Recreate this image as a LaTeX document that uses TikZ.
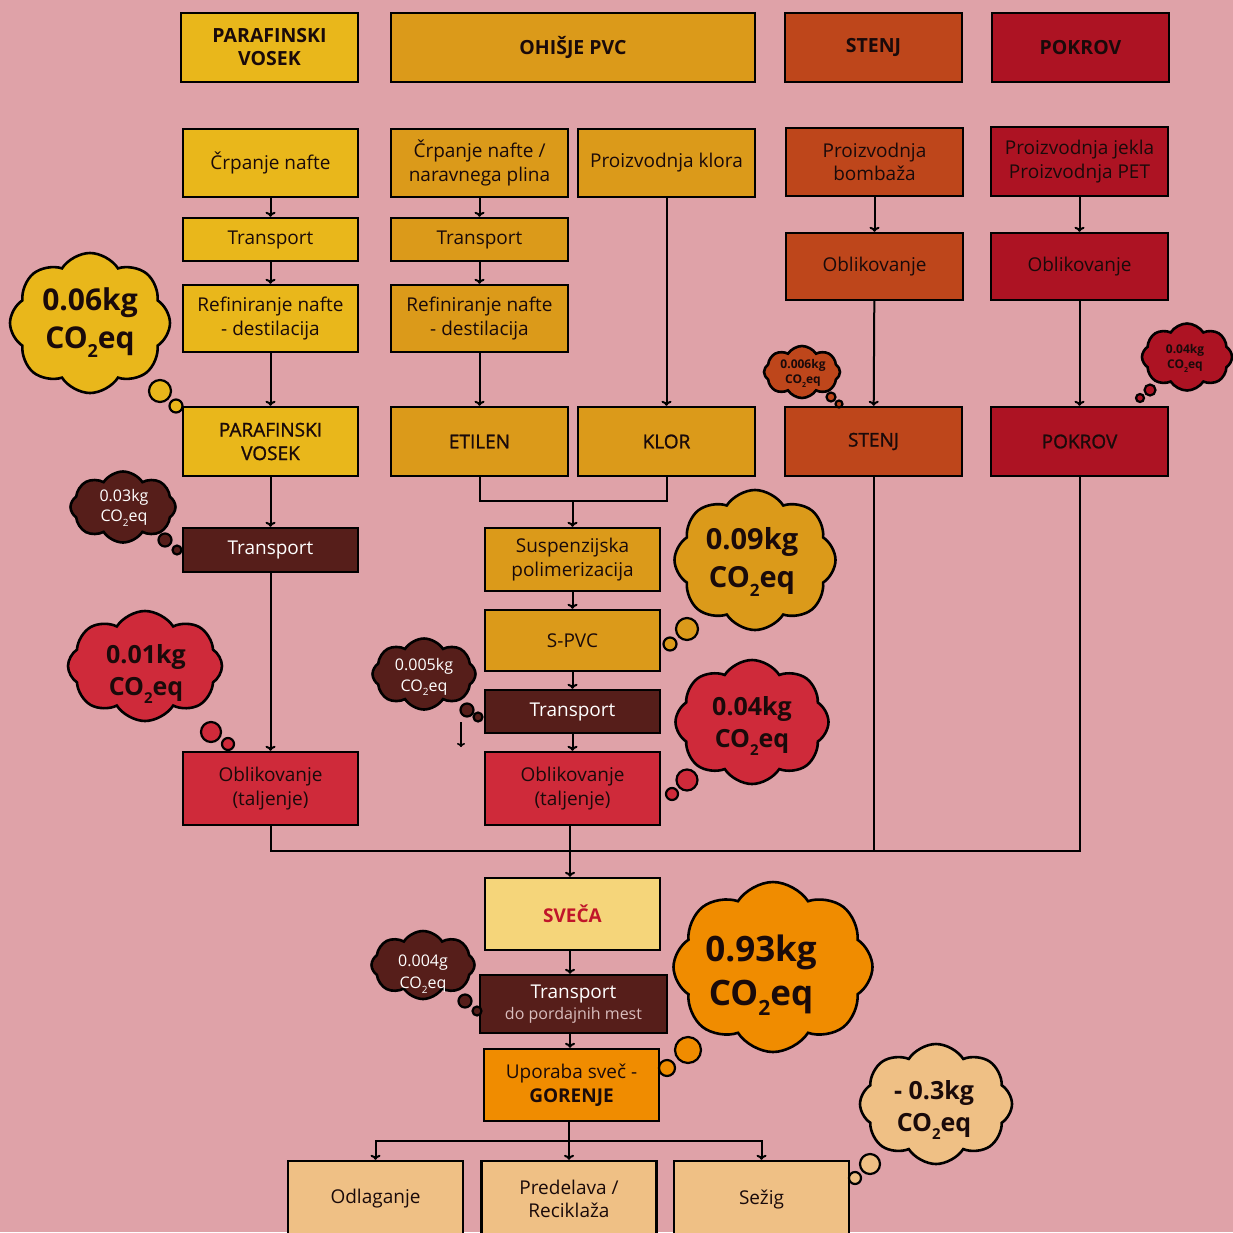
\documentclass[tikz,border=0pt]{standalone}
\usepackage{fontspec}
\setmainfont{Open Sans}
\newfontfamily\semib[FakeBold=1.2]{Open Sans}
\usetikzlibrary{arrows.meta,shapes.symbols}
\definecolor{bg}{HTML}{DFA2A8}
\definecolor{cPar}{HTML}{E9B71B}
\definecolor{cPvc}{HTML}{DB9A1A}
\definecolor{cSte}{HTML}{BE461B}
\definecolor{cPok}{HTML}{AD1323}
\definecolor{cBrn}{HTML}{561E1A}
\definecolor{cRed}{HTML}{CF2A3A}
\definecolor{cSve}{HTML}{F5D57A}
\definecolor{cGor}{HTML}{F08C00}
\definecolor{cEnd}{HTML}{EFC085}
\definecolor{cSveT}{HTML}{C0152A}
\definecolor{cSub}{HTML}{D9BDBD}
\definecolor{cTxt}{HTML}{1A0A0A}
\newcommand{\COeq}[1]{CO\raisebox{-0.3em}{\fontsize{#1}{#1}\selectfont 2}eq}
\tikzset{
  box/.style={draw=black, line width=2.4pt, align=center, inner sep=0pt, text=cTxt,
    font=\fontsize{19}{23.5}\selectfont},
  sbox/.style={box, font=\fontsize{19}{23.5}\selectfont\semib},
  hdr/.style={box, minimum height=69, font=\fontsize{19.5}{23}\selectfont\bfseries},
  wtext/.style={text=white},
  arr/.style={line width=2pt, -{To[length=5pt,width=10pt]}},
  ln/.style={line width=2pt},
  cloudc/.style={cloud, cloud puffs=8, cloud puff arc=115, cloud ignores aspect,
    draw=black, line width=2.6pt, inner sep=0pt},
  ctext/.style={align=center, inner sep=0pt, text=cTxt},
  tail/.style={circle, draw=black, line width=2.2pt, inner sep=0pt},
}
\begin{document}
\begin{tikzpicture}[x=1pt,y=-1pt]
\useasboundingbox (0,0) rectangle (1233,1232);
\fill[bg] (0,0) rectangle (1233,1232);

% headers
\node[hdr, fill=cPar, minimum width=177] (h1) at (269.5,47.5) {PARAFINSKI\\VOSEK};
\node[hdr, fill=cPvc, minimum width=364] (h2) at (573,47.5) {OHIŠJE PVC};
\node[hdr, fill=cSte, minimum width=177] (h3) at (873.5,47.5) {STENJ};
\node[hdr, fill=cPok, minimum width=177] (h4) at (1080.5,47.5) {POKROV};

% column 1
\node[box, fill=cPar, minimum width=175, minimum height=68] (a1) at (270.5,163) {Črpanje nafte};
\node[box, fill=cPar, minimum width=175, minimum height=43] (a2) at (270.5,239.5) {Transport};
\node[box, fill=cPar, minimum width=175, minimum height=67] (a3) at (270.5,318.5) {Refiniranje nafte\\- destilacija};
\node[sbox, fill=cPar, minimum width=175, minimum height=69] (a4) at (270.5,441.5) {PARAFINSKI\\VOSEK};
\node[box, fill=cBrn, wtext, minimum width=175, minimum height=44] (a5) at (270.5,550) {Transport};
\node[box, fill=cRed, minimum width=175, minimum height=73] (a6) at (270.5,788.5) {Oblikovanje\\(taljenje)};

% column 2a / 2b
\node[box, fill=cPvc, minimum width=177, minimum height=68] (b1) at (479.5,163) {Črpanje nafte /\\naravnega plina};
\node[box, fill=cPvc, minimum width=177, minimum height=43] (b2) at (479.5,239.5) {Transport};
\node[box, fill=cPvc, minimum width=177, minimum height=67] (b3) at (479.5,318.5) {Refiniranje nafte\\- destilacija};
\node[sbox, fill=cPvc, minimum width=177, minimum height=69] (b4) at (479.5,441.5) {ETILEN};
\node[box, fill=cPvc, minimum width=177, minimum height=68] (c1) at (666.5,163) {Proizvodnja klora};
\node[sbox, fill=cPvc, minimum width=177, minimum height=69] (c4) at (666.5,441.5) {KLOR};

% centre column
\node[box, fill=cPvc, minimum width=175, minimum height=63] (d1) at (572.5,559.5) {Suspenzijska\\polimerizacija};
\node[box, fill=cPvc, minimum width=175, minimum height=61] (d2) at (572.5,640.5) {S-PVC};
\node[box, fill=cBrn, wtext, minimum width=175, minimum height=43] (d3) at (572.5,711.5) {Transport};
\node[box, fill=cRed, minimum width=175, minimum height=73] (d4) at (572.5,788.5) {Oblikovanje\\(taljenje)};

% column 3
\node[box, fill=cSte, minimum width=177, minimum height=68] (e1) at (874.5,162) {Proizvodnja\\bombaža};
\node[box, fill=cSte, minimum width=177, minimum height=67] (e2) at (874.5,266.5) {Oblikovanje};
\node[sbox, fill=cSte, minimum width=177, minimum height=69] (e3) at (873.5,441.5) {STENJ};

% column 4
\node[box, fill=cPok, minimum width=177, minimum height=69] (f1) at (1079.5,161.5) {Proizvodnja jekla\\Proizvodnja PET};
\node[box, fill=cPok, minimum width=177, minimum height=67] (f2) at (1079.5,266.5) {Oblikovanje};
\node[sbox, fill=cPok, minimum width=177, minimum height=69] (f3) at (1079.5,441.5) {POKROV};

% bottom
\node[box, fill=cSve, text=cSveT, font=\fontsize{19}{22}\selectfont\bfseries, minimum width=175, minimum height=72] (g1) at (572.5,914) {SVEČA};
\node[box, fill=cBrn, wtext, minimum width=187, minimum height=58] (g2) at (573.5,1004) {Transport\\[-3pt]{\fontsize{16}{18}\selectfont\color{cSub}do pordajnih mest}};
\node[box, fill=cGor, minimum width=175, minimum height=72] (g3) at (571.5,1085) {Uporaba sveč -\\\textbf{GORENJE}};
\node[box, fill=cEnd, minimum width=175, minimum height=76] (i1) at (375.5,1199) {Odlaganje};
\node[box, fill=cEnd, minimum width=175, minimum height=76] (i2) at (569,1199) {Predelava /\\Reciklaža};
\node[box, fill=cEnd, minimum width=175, minimum height=76] (i3) at (761.5,1199) {Sežig};

% connectors
\draw[arr] (a1) -- (a2);
\draw[arr] (a2) -- (a3);
\draw[arr] (a3) -- (a4);
\draw[arr] (a4) -- (a5);
\draw[arr] (a5) -- (a6);
\draw[arr] (b1) -- (b2);
\draw[arr] (b2) -- (b3);
\draw[arr] (b3) -- (b4);
\draw[arr] (c1) -- (c4);
\coordinate (m1) at (572.5,501);
\draw[ln] (b4.south) |- (m1) -| (c4.south);
\draw[arr] (m1) -- (d1.north);
\draw[arr] (d1) -- (d2);
\draw[arr] (d2) -- (d3);
\draw[arr] (d3) -- (d4);
\draw[arr] (e1) -- (e2);
\draw[arr] (e2) -- (e3);
\draw[arr] (f1) -- (f2);
\draw[arr] (f2) -- (f3);
\coordinate (m2) at (570,851);
\draw[ln] (a6.south) |- (m2);
\draw[ln] (d4.south -| m2) -- (m2);
\draw[ln] (e3.south) |- (m2);
\draw[ln] (f3.south) |- (m2);
\draw[arr] (m2) -- (g1.north -| m2);
\draw[arr] (g1.south -| m2) -- (g2.north -| m2);
\draw[arr] (g2.south -| m2) -- (g3.north -| m2);
\coordinate (m3) at (569,1141);
\draw[ln] (g3.south -| m3) -- (m3);
\draw[arr] (m3) -| (i1.north);
\draw[arr] (m3) -- (i2.north);
\draw[arr] (m3) -| (i3.north);
\coordinate (s1) at (461,722);
\coordinate (s2) at (461,747);
\draw[line width=1.6pt, -{To[length=4pt,width=8pt]}] (s1) -- (s2);

% clouds
\node[cloudc, fill=cPar, minimum width=160, minimum height=140] (k1) at (90,323) {};
\node[ctext, font=\fontsize{30}{38}\selectfont\bfseries] (k1t) at (90,323) {0.06kg\\\COeq{18}};
\node[tail, fill=cPar, minimum width=18, minimum height=22] (k1a) at (160,391) {};
\node[tail, fill=cPar, minimum size=13] (k1b) at (176,406) {};

\node[cloudc, fill=cSte, minimum width=76, minimum height=52] (k2) at (802,372) {};
\node[ctext, font=\fontsize{12}{15.5}\selectfont\bfseries] (k2t) at (803,373) {0.006kg\\\COeq{7}};
\node[tail, fill=cSte, minimum size=9] (k2a) at (831,397) {};
\node[tail, fill=cSte, minimum size=7] (k2b) at (839,404) {};

\node[cloudc, fill=cPok, minimum width=90, minimum height=67] (k3) at (1187,357) {};
\node[ctext, font=\fontsize{12}{15.5}\selectfont\bfseries] (k3t) at (1185,358) {0.04kg\\\COeq{7}};
\node[tail, fill=cPok, minimum size=11] (k3a) at (1150,390) {};
\node[tail, fill=cPok, minimum size=8] (k3b) at (1140,398) {};

\node[cloudc, fill=cBrn, minimum width=105, minimum height=71] (k4) at (123,507) {};
\node[ctext, text=white, font=\fontsize{16}{20.5}\selectfont] (k4t) at (124,508) {0.03kg\\\COeq{10}};
\node[tail, fill=cBrn, minimum size=13] (k4a) at (165,540) {};
\node[tail, fill=cBrn, minimum size=9] (k4b) at (177,550) {};

\node[cloudc, fill=cRed, minimum width=154, minimum height=110] (k5) at (145,666) {};
\node[ctext, font=\fontsize{25}{32}\selectfont\bfseries] (k5t) at (146,674) {0.01kg\\\COeq{15}};
\node[tail, fill=cRed, minimum width=17, minimum height=20] (k5a) at (211,732) {};
\node[tail, fill=cRed, minimum size=12] (k5b) at (228,744) {};

\node[cloudc, fill=cPvc, minimum width=161, minimum height=140] (k6) at (755,560) {};
\node[ctext, font=\fontsize{29}{38}\selectfont\bfseries] (k6t) at (752,562) {0.09kg\\\COeq{17}};
\node[tail, fill=cPvc, minimum width=18, minimum height=22] (k6a) at (687,629) {};
\node[tail, fill=cPvc, minimum size=13] (k6b) at (670,644) {};

\node[cloudc, fill=cBrn, minimum width=103, minimum height=71] (k7) at (424,674) {};
\node[ctext, text=white, font=\fontsize{16}{21}\selectfont] (k7t) at (424,677) {0.005kg\\\COeq{10}};
\node[tail, fill=cBrn, minimum size=13] (k7a) at (467,710) {};
\node[tail, fill=cBrn, minimum size=9] (k7b) at (478,717) {};

\node[cloudc, fill=cRed, minimum width=153, minimum height=124] (k8) at (752,722) {};
\node[ctext, font=\fontsize{25}{32}\selectfont\bfseries] (k8t) at (752,726) {0.04kg\\\COeq{15}};
\node[tail, fill=cRed, minimum width=18, minimum height=21] (k8a) at (687,780) {};
\node[tail, fill=cRed, minimum size=12] (k8b) at (672,794) {};

\node[cloudc, fill=cBrn, minimum width=103, minimum height=68] (k9) at (423,965) {};
\node[ctext, text=white, font=\fontsize{16}{22}\selectfont] (k9t) at (423,974) {0.004g\\\COeq{10}};
\node[tail, fill=cBrn, minimum size=13] (k9a) at (465,1001) {};
\node[tail, fill=cBrn, minimum size=9] (k9b) at (477,1011) {};

\node[cloudc, fill=cGor, minimum width=199, minimum height=170] (k10) at (773,967) {};
\node[ctext, font=\fontsize{35}{44}\selectfont\bfseries] (k10t) at (761,975) {0.93kg\\\COeq{21}};
\node[tail, fill=cGor, minimum width=22, minimum height=26] (k10a) at (688,1050) {};
\node[tail, fill=cGor, minimum size=16] (k10b) at (667,1068) {};

\node[cloudc, fill=cEnd, minimum width=152, minimum height=120] (k11) at (936,1104) {};
\node[ctext, font=\fontsize{25}{32}\selectfont\bfseries] (k11t) at (934,1110) {- 0.3kg\\\COeq{15}};
\node[tail, fill=cEnd, minimum width=17, minimum height=20] (k11a) at (870,1164) {};
\node[tail, fill=cEnd, minimum size=12] (k11b) at (855,1178) {};
\end{tikzpicture}
\end{document}
